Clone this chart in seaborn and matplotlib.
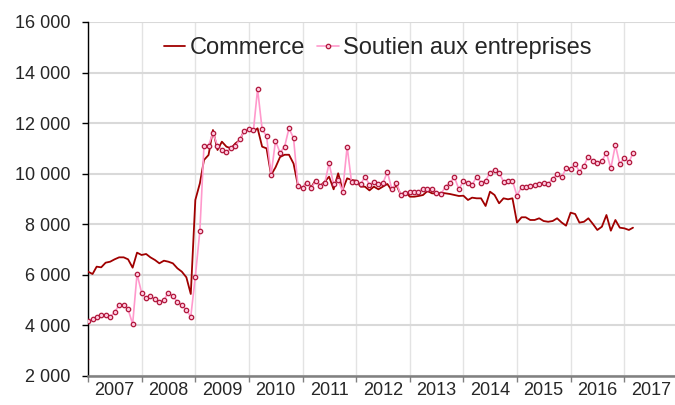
import pandas as pd
import matplotlib
matplotlib.use("Agg")
import matplotlib.pyplot as plt
from matplotlib.ticker import FuncFormatter
import seaborn as sns

# Séries mensuelles, janvier 2007 - mars 2017
mois = pd.date_range("2007-01-01", periods=123, freq="MS")

commerce = [
    6126, 6034, 6324, 6298, 6481, 6521, 6614, 6693, 6693, 6614, 6284, 6878,
    6786, 6825, 6693, 6588, 6456, 6560, 6521, 6456, 6258, 6126, 5903, 5243,
    8961, 9621, 10543, 10740, 11729, 10938, 11267, 11069, 11003, 11200, 11334, 11729,
    11729, 11663, 11796, 11069, 11003, 9950, 10250, 10660, 10750, 10750, 10400, 9530,
    9423, 9685, 9462, 9752, 9515, 9685, 9883, 9383, 10016, 9356, 9818, 9752,
    9726, 9488, 9488, 9340, 9488, 9383, 9488, 9594, 9330, 9554, 9158, 9290,
    9092, 9092, 9119, 9158, 9317, 9224, 9224, 9250, 9224, 9198, 9158, 9119,
    9130, 8961, 9053, 9027, 9027, 8724, 9290, 9158, 8830, 9027, 8988, 9027,
    8066, 8277, 8277, 8170, 8170, 8237, 8130, 8100, 8130, 8237, 8070, 7945,
    8460, 8407, 8066, 8100, 8237, 8012, 7775, 7905, 8367, 7747, 8170, 7866,
    7840, 7775, 7866,
]

soutien = [
    4187, 4242, 4321, 4400, 4426, 4334, 4519, 4808, 4808, 4637, 4057, 6034,
    5296, 5072, 5152, 5033, 4927, 5006, 5296, 5152, 4940, 4808, 4610, 4347,
    5927, 7747, 11108, 11108, 11623, 11108, 10938, 10871, 11003, 11096, 11361, 11701,
    11768, 11729, 13350, 11756, 11492, 9950, 11300, 10831, 11069, 11800, 11400, 9515,
    9447, 9645, 9423, 9712, 9527, 9620, 10412, 9580, 9750, 9290, 11069, 9660,
    9660, 9580, 9883, 9570, 9660, 9580, 9620, 10068, 9383, 9645, 9158, 9224,
    9290, 9290, 9290, 9408, 9408, 9408, 9250, 9198, 9488, 9645, 9858, 9383,
    9720, 9630, 9554, 9883, 9645, 9726, 10042, 10147, 10042, 9685, 9712, 9726,
    9119, 9488, 9488, 9527, 9567, 9594, 9645, 9594, 9804, 9977, 9858, 10214,
    10187, 10385, 10081, 10319, 10675, 10503, 10411, 10503, 10831, 10214, 11136, 10372,
    10635, 10451, 10820,
]

annees = list(range(2007, 2018))
yticks = [2000, 4000, 6000, 8000, 10000, 12000, 14000, 16000]

sns.set_style("white")
plt.rcParams["font.family"] = ["Liberation Sans", "DejaVu Sans"]

fig = plt.figure(figsize=(6.75, 4.05), dpi=100)
ax = fig.add_axes([88 / 675, 29 / 405, 1 - 88 / 675, 354 / 405])

sns.lineplot(x=mois, y=commerce, ax=ax, color="#a00000", linewidth=1.3,
             label="Commerce", zorder=3)
sns.lineplot(x=mois, y=soutien, ax=ax, color="#ff99cc", linewidth=1.2,
             marker="o", markersize=3.2, markerfacecolor="#ffc8de",
             markeredgecolor="#b0183c", markeredgewidth=0.9,
             label="Soutien aux entreprises", zorder=4)

# axes
ax.set_ylim(2000, 16000)
ax.set_yticks(yticks)
ax.yaxis.set_major_formatter(FuncFormatter(lambda v, p: f"{int(v):,}".replace(",", " ")))
ax.set_xlim(pd.Timestamp("2007-01-01"), pd.Timestamp("2017-12-12"))
ax.set_xticks([pd.Timestamp(f"{a}-01-01") for a in annees])
ax.set_xticklabels([])
ax.set_xticks([pd.Timestamp(f"{a}-07-01") for a in annees], minor=True)
ax.set_xticklabels([str(a) for a in annees], minor=True)
ax.set_xlabel("")
ax.set_ylabel("")

ax.grid(axis="y", color="#d9d9d9", linewidth=1.5)
ax.grid(axis="x", which="major", color="#e3e3e3", linewidth=1)
ax.set_axisbelow(True)

for s in ["top", "right"]:
    ax.spines[s].set_visible(False)
ax.spines["left"].set_color("black")
ax.spines["left"].set_linewidth(1)
ax.spines["bottom"].set_color("#808080")
ax.spines["bottom"].set_linewidth(1.8)

ax.tick_params(axis="y", which="major", direction="out", length=4.5, width=1,
               color="black", labelsize=13, pad=8, left=True)
ax.tick_params(axis="x", which="major", direction="out", length=4, width=1,
               color="#808080", bottom=True)
ax.tick_params(axis="x", which="minor", length=0, labelsize=13, pad=4)

ax.legend(loc="center", bbox_to_anchor=(0.494, 0.926), ncol=2, frameon=False,
          fontsize=17, handlelength=0.9, handletextpad=0.2, columnspacing=0.5,
          borderaxespad=0)

fig.savefig("out.png", dpi=100)
